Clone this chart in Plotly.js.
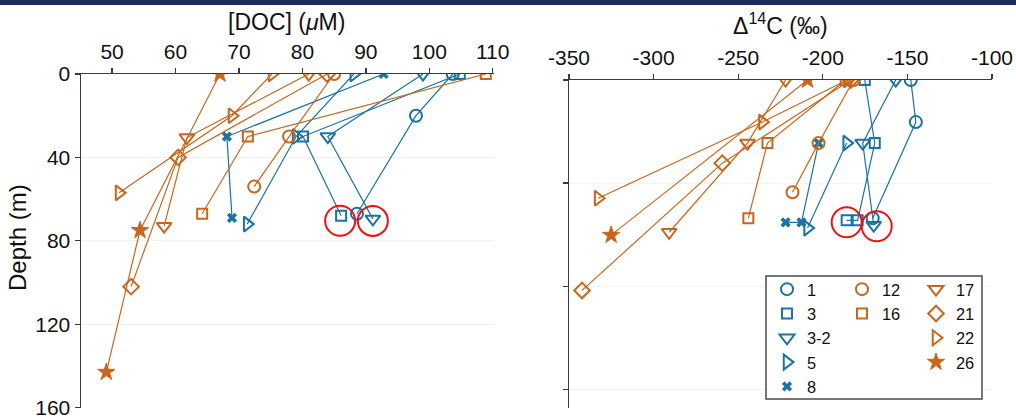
<!DOCTYPE html>
<html>
<head>
<meta charset="utf-8">
<script src="https://cdn.plot.ly/plotly-3.0.1.min.js"></script>
<style>html,body{margin:0;padding:0;background:#fff}#chart{width:1016px;height:419px}</style>
</head>
<body>
<div id="chart"></div>
<script>
// ---------- DATA ----------
// Left panel: [DOC] (µM) vs depth (m)
const depth1L = [0, 20, 67],   doc1  = [103.7, 97.9, 88.6];
const depth3L = [0, 30, 68],   doc3  = [104.8, 80.1, 86.1];
const depth32L = [0, 30, 69.5], doc32 = [99.0, 84.0, 91.1];
const depth5L = [0, 30, 72],   doc5  = [88.1, 79.0, 71.3];
const depth8L = [0, 30, 69],   doc8  = [92.8, 68.1, 68.9];
const depth12L = [0, 30, 54],  doc12 = [85.0, 77.9, 72.4];
const depth16L = [0, 30, 67],  doc16 = [108.9, 71.4, 64.2];
const depth17L = [0, 30.5, 73], doc17 = [81.0, 61.8, 58.2];
const depth21L = [0, 40, 102], doc21 = [83.9, 60.4, 53.0];
const depth22L = [0, 20, 57],  doc22 = [75.2, 68.9, 51.1];
const depth26L = [0, 75, 143], doc26 = [67.0, 54.4, 49.1];

// Right panel: Δ14C (‰) vs depth (m)
const depth1R = [0, 20.4, 67],        d14c1  = [-148.0, -145.0, -170.5];
const depth3R = [0, 30.6, 68, 68],    d14c3  = [-175.2, -169.3, -179.4, -185.9];
const depth32R = [0, 30.6, 70.4],     d14c32 = [-156.9, -176.4, -169.9];
const depth5R = [30.6, 71.8],         d14c5  = [-185.9, -209.0];
const depth8R = [30.6, 69, 69],       d14c8  = [-202.5, -212.6, -222.0];
const depth12R = [0, 30.6, 54.4],     d14c12 = [-181.8, -202.5, -217.9];
const depth16R = [0, 30.6, 67],       d14c16 = [-186.5, -232.7, -244.0];
const depth17R = [0, 30.6, 73.8],     d14c17 = [-222.0, -244.5, -290.8];
const depth21R = [0, 40.3, 102],      d14c21 = [-183.5, -259.4, -342.3];
const depth22R = [0, 20.4, 57.3],     d14c22 = [-185.5, -235.7, -332.8];
const depth26R = [0, 75.2],           d14c26 = [-209.0, -325.1];

const stationNames = ['1', '3', '3-2', '5', '8', '12', '16', '17', '21', '22', '26'];
const xTicksDOC = [50, 60, 70, 80, 90, 100, 110];
const yTicksDOC = [0, 40, 80, 120, 160];
const xTicksC14 = [-350, -300, -250, -200, -150, -100];
const xTickLabelsC14 = ['-350', '-300', '-250', '-200', '-150', '-100'];
const yTicksC14 = [0, 50, 100, 150];

// ---------- STYLE ----------
const BLUE = '#1b72a7', ORANGE = '#c9661c';
const FONT = 'Liberation Sans, Arial, Helvetica, sans-serif';
const styles = {
  '1':   {c: BLUE,   s: 'circle-open',         z: 12, leg: 'legend'},
  '3':   {c: BLUE,   s: 'square-open',         z: 10, leg: 'legend'},
  '3-2': {c: BLUE,   s: 'triangle-down-open',  z: 13, leg: 'legend'},
  '5':   {c: BLUE,   s: 'triangle-right-open', z: 13, leg: 'legend'},
  '8':   {c: BLUE,   s: 'x',                   z: 9,  leg: 'legend'},
  '12':  {c: ORANGE, s: 'circle-open',         z: 12, leg: 'legend2'},
  '16':  {c: ORANGE, s: 'square-open',         z: 10, leg: 'legend2'},
  '17':  {c: ORANGE, s: 'triangle-down-open',  z: 13, leg: 'legend3'},
  '21':  {c: ORANGE, s: 'diamond-open',        z: 12, leg: 'legend3'},
  '22':  {c: ORANGE, s: 'triangle-right-open', z: 13, leg: 'legend3'},
  '26':  {c: ORANGE, s: 'star',                z: 13, leg: 'legend3'}
};
const leftData = {
  '1': [doc1, depth1L], '3': [doc3, depth3L], '3-2': [doc32, depth32L], '5': [doc5, depth5L],
  '8': [doc8, depth8L], '12': [doc12, depth12L], '16': [doc16, depth16L], '17': [doc17, depth17L],
  '21': [doc21, depth21L], '22': [doc22, depth22L], '26': [doc26, depth26L]
};
const rightData = {
  '1': [d14c1, depth1R], '3': [d14c3, depth3R], '3-2': [d14c32, depth32R], '5': [d14c5, depth5R],
  '8': [d14c8, depth8R], '12': [d14c12, depth12R], '16': [d14c16, depth16R], '17': [d14c17, depth17R],
  '21': [d14c21, depth21R], '22': [d14c22, depth22R], '26': [d14c26, depth26R]
};

function mk(st) {
  const s = styles[st];
  const open = s.s.indexOf('open') >= 0;
  return {symbol: s.s, size: s.z, color: s.c,
          line: {color: s.c, width: open ? 2 : (s.s === 'x' ? 0 : 1)}};
}

const traces = [];
stationNames.forEach(st => {
  const s = styles[st];
  traces.push({x: leftData[st][0], y: leftData[st][1], xaxis: 'x', yaxis: 'y',
    mode: 'lines+markers', line: {color: s.c, width: 1.2}, marker: mk(st),
    showlegend: false, hoverinfo: 'skip'});
  traces.push({x: rightData[st][0], y: rightData[st][1], xaxis: 'x2', yaxis: 'y2',
    mode: 'lines+markers', line: {color: s.c, width: 1.2}, marker: mk(st),
    showlegend: false, hoverinfo: 'skip'});
});
// legend entries (markers only)
stationNames.forEach(st => {
  const s = styles[st];
  traces.push({x: [null], y: [null], xaxis: 'x2', yaxis: 'y2', mode: 'markers',
    name: st, marker: mk(st), legend: s.leg, showlegend: true});
});

const W = 1016, H = 419;
const px = v => v / W, py = v => 1 - v / H;

const axisCommon = {
  showline: true, linecolor: '#3a3a3a', linewidth: 1.5, ticks: 'outside', ticklen: 5,
  tickcolor: '#3a3a3a', tickwidth: 1.3, zeroline: false, mirror: false,
  ticklabeloverflow: 'allow',
  tickfont: {family: FONT, size: 21, color: '#111'}
};

const legCommon = {bgcolor: 'rgba(0,0,0,0)', borderwidth: 0, xanchor: 'left', yanchor: 'top',
  font: {family: FONT, size: 16.4, color: '#111'}, itemclick: false, itemdoubleclick: false};

const layout = {
  width: W, height: H, margin: {l: 0, r: 0, t: 0, b: 0},
  paper_bgcolor: '#fff', plot_bgcolor: 'rgba(0,0,0,0)',
  font: {family: FONT, color: '#111'},
  xaxis: Object.assign({}, axisCommon, {domain: [px(81), px(494)], range: [45.1, 110.2],
    side: 'top', anchor: 'y', tickvals: xTicksDOC, showgrid: false}),
  yaxis: Object.assign({}, axisCommon, {domain: [py(408), py(74)], range: [160.2, 0],
    anchor: 'x', tickvals: yTicksDOC, showgrid: true, gridcolor: '#f1f1f1', gridwidth: 1}),
  xaxis2: Object.assign({}, axisCommon, {domain: [px(569), px(992)], range: [-350, -100],
    side: 'top', anchor: 'y2', tickvals: xTicksC14, ticktext: xTickLabelsC14, showgrid: false}),
  yaxis2: Object.assign({}, axisCommon, {domain: [py(408), py(80)], range: [159, 0],
    anchor: 'x2', tickvals: yTicksC14, showticklabels: false, showgrid: true,
    gridcolor: '#f3f3f3', gridwidth: 1}),
  legend: Object.assign({}, legCommon, {x: px(767), y: py(272)}),
  legend2: Object.assign({}, legCommon, {x: px(842), y: py(272)}),
  legend3: Object.assign({}, legCommon, {x: px(916), y: py(272)}),
  shapes: [
    {type: 'rect', xref: 'paper', yref: 'paper', x0: 0, x1: 1, y0: py(5), y1: 1,
     fillcolor: '#1b2d57', line: {width: 0}},
    {type: 'rect', xref: 'paper', yref: 'paper', x0: px(766), x1: px(982), y0: py(399), y1: py(276),
     fillcolor: '#ffffff', line: {color: '#4a4a4a', width: 1.5}, layer: 'above'},
    // red highlight circles anchored on data points
    {type: 'circle', xref: 'x', yref: 'y', xsizemode: 'pixel', ysizemode: 'pixel',
     xanchor: doc3[2], yanchor: depth3L[2], x0: -16, x1: 14, y0: -20, y1: 10,
     line: {color: '#ee1111', width: 2}},
    {type: 'circle', xref: 'x', yref: 'y', xsizemode: 'pixel', ysizemode: 'pixel',
     xanchor: doc32[2], yanchor: depth32L[2], x0: -15, x1: 15, y0: -17, y1: 13,
     line: {color: '#ee1111', width: 2}},
    {type: 'circle', xref: 'x2', yref: 'y2', xsizemode: 'pixel', ysizemode: 'pixel',
     xanchor: d14c3[3], yanchor: depth3R[3], x0: -15, x1: 15, y0: -17, y1: 13,
     line: {color: '#ee1111', width: 2}},
    {type: 'circle', xref: 'x2', yref: 'y2', xsizemode: 'pixel', ysizemode: 'pixel',
     xanchor: d14c32[2], yanchor: depth32R[2], x0: -12, x1: 18, y0: -16, y1: 14,
     line: {color: '#ee1111', width: 2}}
  ],
  annotations: [
    {xref: 'paper', yref: 'paper', x: px(286), y: py(22), text: '[DOC] (<i>μ</i>M)',
     showarrow: false, font: {family: FONT, size: 23, color: '#111'}, xanchor: 'center', yanchor: 'middle'},
    {xref: 'paper', yref: 'paper', x: px(780), y: py(24), text: 'Δ<sup>14</sup>C (‰)',
     showarrow: false, font: {family: FONT, size: 23, color: '#111'}, xanchor: 'center', yanchor: 'middle'},
    {xref: 'paper', yref: 'paper', x: px(17), y: py(238), text: 'Depth (m)', textangle: -90,
     showarrow: false, font: {family: FONT, size: 24, color: '#111'}, xanchor: 'center', yanchor: 'middle'}
  ]
};

Plotly.newPlot('chart', traces, layout, {staticPlot: true, displayModeBar: false});
</script>
</body>
</html>
